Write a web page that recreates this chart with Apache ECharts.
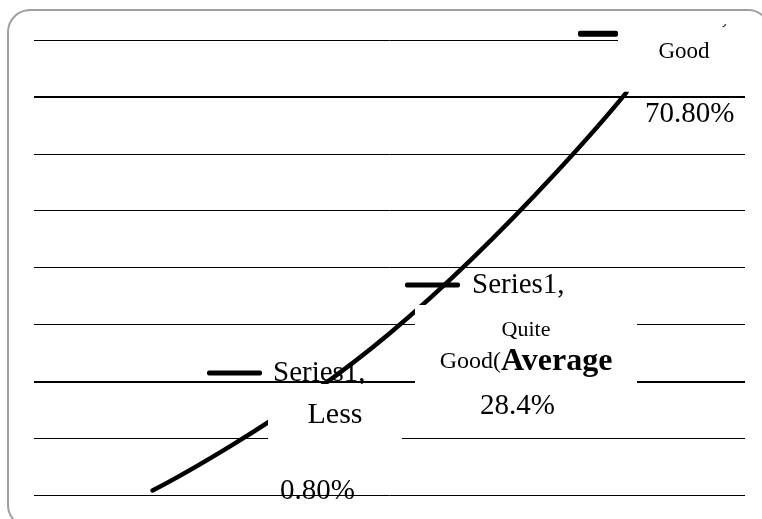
<!DOCTYPE html>
<html><head><meta charset="utf-8">
<script src="https://cdn.jsdelivr.net/npm/echarts@6/dist/echarts.min.js"></script>
<style>html,body{margin:0;padding:0;background:#fff}#c{width:762px;height:519px}</style>
</head><body><div id="c"></div>
<script>
// ---- data ----
const seriesName = 'Series1';
const categories = ['Less', 'Quite Good', 'Good'];
const values = [0.8, 28.4, 70.8];
const valueLabels = ['0.80%', '28.4%', '70.80%'];
const averageNote = 'Average';
const yMin = 0, yMax = 80, yInterval = 10;
const thickGridValues = [20, 70];

// ---- styles ----
const FF = 'Liberation Serif';
function t(o) { return Object.assign({ fontFamily: FF, color: '#000' }, o); }
function sp(w, lh) { return { width: w, height: 1, lineHeight: lh || 1 }; }
const rich = {
  dash: { width: 55, height: 5, lineHeight: 5, backgroundColor: '#000', borderRadius: 2 },
  dashS: { width: 40, height: 6, lineHeight: 6, backgroundColor: '#000', borderRadius: 2 },
  sp10: sp(10), sp11: sp(11), sp12: sp(12), sp40: sp(40), sp61: sp(61), sp67: sp(67), sp73: sp(73), sp75: sp(75),
  gap5: sp(1, 5),
  sL: t({ fontSize: 29, lineHeight: 22 }),
  sQ: t({ fontSize: 29, lineHeight: 40 }),
  s1: t({ fontSize: 26, lineHeight: 17, height: 23, verticalAlign: 'top' }),
  lbox: { width: 134, height: 93, lineHeight: 1, verticalAlign: 'top', backgroundColor: '#fff' },
  qbox: { width: 222, height: 125, lineHeight: 1, verticalAlign: 'top', backgroundColor: '#fff' },
  gbox: { width: 132, height: 64, lineHeight: 12, verticalAlign: 'top', backgroundColor: '#fff' },
  less: t({ fontSize: 30, lineHeight: 60, align: 'center' }),
  pctL: t({ fontSize: 29, lineHeight: 92 }),
  quite: t({ fontSize: 22, lineHeight: 48, align: 'center' }),
  good: t({ fontSize: 24, lineHeight: 16, align: 'center' }),
  avg: t({ fontSize: 32, lineHeight: 16, fontWeight: 'bold', align: 'center' }),
  pctQ: t({ fontSize: 29, lineHeight: 72 }),
  goodT: t({ fontSize: 23, lineHeight: 24, align: 'center' }),
  pctG: t({ fontSize: 29, lineHeight: 102 })
};

const qParts = categories[1].split(' ');
const formatters = [
  '{dash|}{sp11|}{sL|' + seriesName + ',}\n{sp61|}{lbox|}\n{sp61|}{less|' + categories[0] + '}\n{sp73|}{pctL|' + valueLabels[0] + '}',
  '{dash|}{sp12|}{sQ|' + seriesName + ',}\n{sp10|}{qbox|}\n{sp10|}{quite|' + qParts[0] + '}\n{sp10|}{good|' + qParts[1] + '(}{avg|' + averageNote + '}\n{sp75|}{pctQ|' + valueLabels[1] + '}',
  '{sp67|}{s1|' + seriesName + ',}\n{gap5|}\n{dashS|}{gbox|}\n{sp40|}{goodT|' + categories[2] + '}\n{sp67|}{pctG|' + valueLabels[2] + '}'
];
const labelPos = [[55, -128], [16, -68], [-48, -86]];

const chart = echarts.init(document.getElementById('c'), null, { renderer: 'canvas' });
chart.setOption({
  animation: false,
  backgroundColor: '#fff',
  grid: { left: 34, right: 17, top: 40, bottom: 24 },
  xAxis: {
    type: 'category', data: categories, boundaryGap: true,
    axisLine: { show: false }, axisTick: { show: false }, axisLabel: { show: false }, splitLine: { show: false }
  },
  yAxis: {
    type: 'value', min: yMin, max: yMax, interval: yInterval,
    axisLine: { show: false }, axisTick: { show: false }, axisLabel: { show: false },
    splitLine: { show: true, lineStyle: { color: '#000', width: 1 } }
  },
  series: [{
    name: seriesName,
    type: 'line',
    z: 2,
    smooth: true,
    symbol: 'circle', symbolSize: 1, showSymbol: true,
    itemStyle: { color: '#000' },
    lineStyle: { color: '#000', width: 4.5, cap: 'round' },
    emphasis: { disabled: true },
    data: values.map((v, i) => ({
      value: v,
      label: { show: true, position: labelPos[i], align: 'left', verticalAlign: 'top', formatter: formatters[i], rich: rich, color: '#000' }
    })),
    markLine: {
      z: 1,
      silent: true, symbol: ['none', 'none'], label: { show: false },
      lineStyle: { color: '#000', width: 2, type: 'solid' },
      emphasis: { disabled: true },
      data: thickGridValues.map(v => ({ yAxis: v }))
    }
  }]
});

// white strip clipping the top of the last point's label (as in the source), placed from the axis scale
const last = values.length - 1;
const pLast = chart.convertToPixel({ seriesIndex: 0 }, [last, values[last]]);
chart.setOption({
  graphic: {
    elements: [{
      type: 'rect', zlevel: 1, silent: true,
      shape: { x: pLast[0] - 8, y: 0, width: 132, height: pLast[1] - 68 },
      style: { fill: '#fff' }
    }, {
      type: 'rect', zlevel: 2, silent: true,
      shape: { x: 8, y: 10, width: 762, height: 517, r: 22 },
      style: { fill: 'none', stroke: '#a0a0a0', lineWidth: 2 }
    }]
  }
});
</script></body></html>
